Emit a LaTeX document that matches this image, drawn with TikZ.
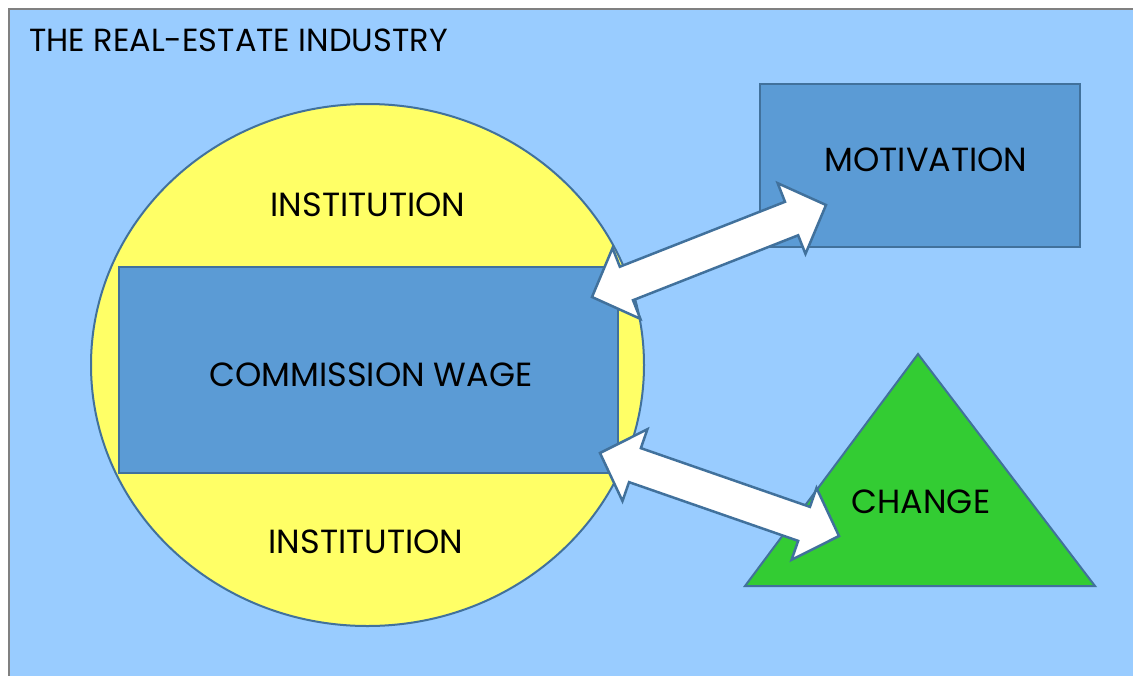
\documentclass[tikz,border=0pt]{standalone}
\usepackage{fontspec}
\setmainfont{Poppins}
\usetikzlibrary{shapes.geometric,calc}
\definecolor{bgblue}{HTML}{99CCFF}
\definecolor{boxblue}{HTML}{5B9BD5}
\definecolor{edgeblue}{HTML}{41719C}
\definecolor{circyellow}{HTML}{FFFF66}
\definecolor{trigreen}{HTML}{33CC33}
\definecolor{framegray}{HTML}{808080}
\newcommand{\dblarrow}[2]{%
  \path ($(#1)!37pt!(#2)$) coordinate (#1h) ($(#2)!37pt!(#1)$) coordinate (#2h);
  \draw[arrowshape] (#1) -- ($(#1h)!38pt!90:(#2)$) -- ($(#1h)!18pt!90:(#2)$)
    -- ($(#2h)!18pt!-90:(#1)$) -- ($(#2h)!38pt!-90:(#1)$) -- (#2)
    -- ($(#2h)!38pt!90:(#1)$) -- ($(#2h)!18pt!90:(#1)$)
    -- ($(#1h)!18pt!-90:(#2)$) -- ($(#1h)!38pt!-90:(#2)$) -- cycle;}
\begin{document}
\begin{tikzpicture}[x=1pt,y=-1pt,
  shapeedge/.style={draw=edgeblue,line width=2pt},
  bluebox/.style={shapeedge,fill=boxblue,rectangle,inner sep=0pt},
  label/.style={font=\fontsize{33.5}{40}\selectfont,text=black,inner sep=0pt},
  arrowshape/.style={draw=edgeblue,line width=2.5pt,fill=white,line join=miter}]
\useasboundingbox (0,0) rectangle (1133,675);
\clip (0,0) rectangle (1133,675);
\fill[white] (0,0) rectangle (1133,675);
\draw[draw=framegray,line width=2pt,fill=bgblue] (9,9) rectangle (1150,700);
\node[label,font=\fontsize{32}{38}\selectfont,anchor=west] (title) at (29,40) {THE REAL-ESTATE INDUSTRY};
\node[ellipse,shapeedge,fill=circyellow,minimum width=553pt,minimum height=522pt,inner sep=0pt] (circ) at (367.5,365) {};
\node[label] (inst1) at (368,205) {INSTITUTION};
\node[label] (inst2) at (366,542) {INSTITUTION};
\node[bluebox,minimum width=499pt,minimum height=206pt] (wage) at (368.5,370) {};
\node[label] (wagetext) at (371,375) {COMMISSION WAGE};
\node[bluebox,minimum width=320pt,minimum height=163pt] (motiv) at (920,165.5) {};
\node[label] (motivtext) at (926,160) {MOTIVATION};
\coordinate (ta) at (918,354);
\coordinate (tb) at (745,586);
\coordinate (tc) at (1095,586);
\draw[shapeedge,fill=trigreen,line join=miter] (ta) -- (tb) -- (tc) -- cycle;
\node[label] (change) at (921,502) {CHANGE};
\coordinate (u1) at (592,297);
\coordinate (u2) at (826,205);
\coordinate (l1) at (600,453);
\coordinate (l2) at (839,536);
\dblarrow{u1}{u2}
\dblarrow{l1}{l2}
\end{tikzpicture}
\end{document}
